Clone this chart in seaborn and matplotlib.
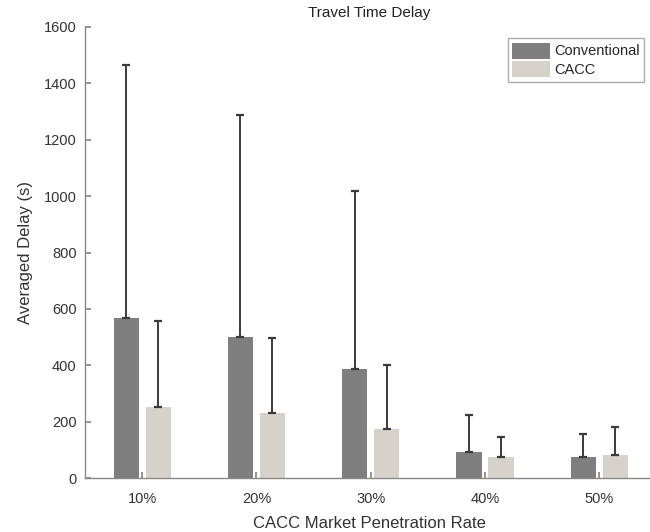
import matplotlib
matplotlib.use("Agg")
import matplotlib.pyplot as plt
import seaborn as sns
import pandas as pd
import numpy as np

categories = ["10%", "20%", "30%", "40%", "50%"]
conventional = [569, 499, 386, 93, 73]
conventional_upper = [1466, 1289, 1018, 223, 157]
cacc = [253, 230, 173, 73, 80]
cacc_upper = [557, 495, 402, 147, 180]
series = ["Conventional", "CACC"]

sns.set_theme(style="white")
plt.rcParams['font.family'] = ['Liberation Sans', 'DejaVu Sans']

df = pd.DataFrame({
    "rate": categories * 2,
    "delay": conventional + cacc,
    "series": [series[0]] * len(categories) + [series[1]] * len(categories),
})

fig = plt.figure(figsize=(6.5, 5.32), dpi=100)
ax = fig.add_axes([85/650, 1 - 478/532, 568/650, 451/532])

palette = {"Conventional": "#7f7f7f", "CACC": "#d6d2ca"}
sns.barplot(data=df, x="rate", y="delay", hue="series", order=categories,
            hue_order=series, palette=palette, errorbar=None,
            width=0.56, gap=0.21, saturation=1, ax=ax, edgecolor="none")

for cont, vals, ups in zip(ax.containers, [conventional, cacc], [conventional_upper, cacc_upper]):
    xs = [p.get_x() + p.get_width() / 2 for p in cont.patches]
    vals = np.array(vals)
    ups = np.array(ups)
    ax.errorbar(xs, vals, yerr=[np.zeros_like(vals), ups - vals], fmt="none",
                ecolor="#3a3a3a", elinewidth=1.4, capsize=3, capthick=1.6, zorder=3)

ax.set_xlim(-0.5, 4.47)
ax.set_ylim(0, 1600)
ax.set_yticks(range(0, 1601, 200))
ax.set_title("Travel Time Delay", fontsize=11, color="#222222", pad=7)
ax.set_xlabel("CACC Market Penetration Rate", fontsize=12, color="#333333", labelpad=7)
ax.set_ylabel("Averaged Delay (s)", fontsize=12, color="#333333", labelpad=8)

for s in ["top", "right"]:
    ax.spines[s].set_visible(False)
for s in ["left", "bottom"]:
    ax.spines[s].set_color("#888888")
    ax.spines[s].set_linewidth(1.0)
ax.tick_params(axis="both", direction="in", length=4, color="#888888",
               labelsize=10.5, labelcolor="#333333", left=True, bottom=True)
ax.tick_params(axis="x", pad=10)
ax.tick_params(axis="y", pad=6)

leg = ax.legend(loc="upper right", bbox_to_anchor=(0.985, 0.975), fontsize=10.5,
                frameon=True, fancybox=False, edgecolor="#999999",
                handlelength=2.6, handleheight=1.3, handletextpad=0.3,
                borderpad=0.3, labelspacing=0.2, borderaxespad=0)
leg.get_frame().set_linewidth(1.0)
ax.set_facecolor("white")

fig.savefig("out.png", dpi=100)
